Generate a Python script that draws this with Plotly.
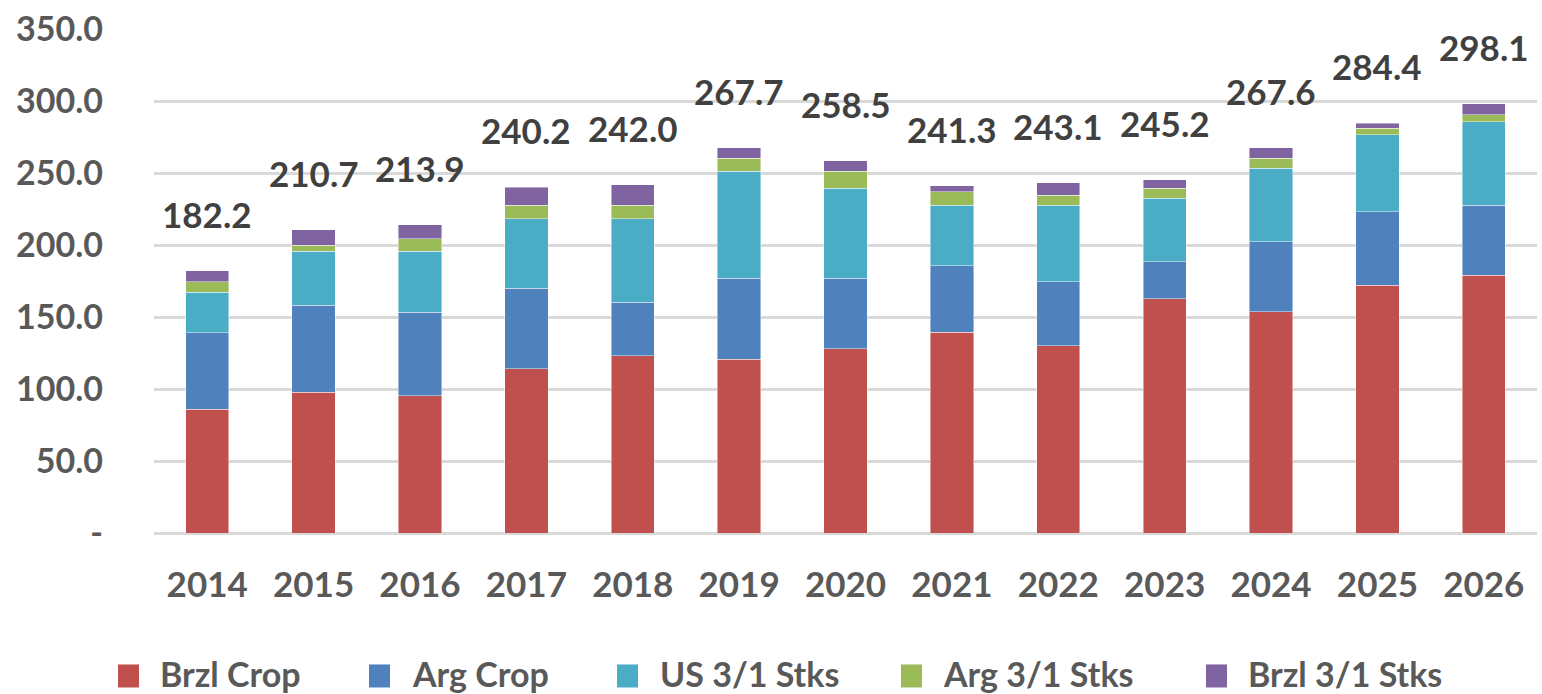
import plotly.graph_objects as go

years = ["2014", "2015", "2016", "2017", "2018", "2019", "2020",
         "2021", "2022", "2023", "2024", "2025", "2026"]
brzl_crop = [86.0, 97.7, 95.3, 113.9, 123.1, 120.8, 127.8, 139.4, 130.1, 162.8, 153.5, 172.1, 179.0]
arg_crop = [53.1, 60.5, 58.0, 56.1, 37.2, 56.2, 49.2, 46.3, 44.3, 25.5, 48.7, 51.0, 48.7]
us_stks = [28.1, 37.3, 42.2, 48.4, 58.1, 74.1, 62.3, 42.0, 53.3, 44.0, 51.0, 53.3, 58.0]
arg_stks = [7.2, 4.4, 9.0, 9.3, 9.3, 9.3, 11.8, 9.3, 7.0, 7.0, 7.0, 4.6, 4.6]
brzl_stks = [7.8, 10.8, 9.4, 12.5, 14.3, 7.3, 7.4, 4.3, 8.4, 5.9, 7.4, 3.4, 7.8]
totals = [182.2, 210.7, 213.9, 240.2, 242.0, 267.7, 258.5, 241.3, 243.1, 245.2, 267.6, 284.4, 298.1]

series_names = ["Brzl Crop", "Arg Crop", "US 3/1 Stks", "Arg 3/1 Stks", "Brzl 3/1 Stks"]
series_values = [brzl_crop, arg_crop, us_stks, arg_stks, brzl_stks]
colors = ["#C0504D", "#4F81BD", "#4BACC6", "#9BBB59", "#8064A2"]

y_tickvals = [0, 50, 100, 150, 200, 250, 300, 350]
y_ticktext = ["-", "50.0", "100.0", "150.0", "200.0", "250.0", "300.0", "350.0"]

FONT = "Lato"
W, H = 1542, 694
L, R = 154, 1537
TOP, BOT = 29.3, 532.7

xpos = list(range(len(years)))

fig = go.Figure()
for name, vals, col in zip(series_names, series_values, colors):
    fig.add_trace(go.Bar(
        x=xpos, y=vals, name=name, marker_color=col,
        marker_line=dict(width=0.8, color="rgba(255,255,255,0.55)"),
        width=0.407,
        showlegend=False,
    ))

annotations = []
for xi, tot in zip(xpos, totals):
    annotations.append(dict(
        x=xi, y=tot, xref="x", yref="y", text=f"{tot:.1f}",
        showarrow=False, yanchor="middle", xanchor="center", yshift=57,
        font=dict(family=FONT, size=35, color="#404040", weight="bold"),
    ))

def px2paper_x(px):
    return (px - L) / (R - L)

def px2paper_y(py):
    return (BOT - py) / (BOT - TOP)

shapes = []
marker_x = [118, 369, 617, 901, 1206]
text_x = [158, 410, 658, 941, 1246]
for name, col, mx, tx in zip(series_names, colors, marker_x, text_x):
    shapes.append(dict(
        type="rect", xref="paper", yref="paper",
        x0=px2paper_x(mx), x1=px2paper_x(mx + 21),
        y0=px2paper_y(687), y1=px2paper_y(664),
        fillcolor=col, line=dict(width=0),
    ))
    annotations.append(dict(
        x=px2paper_x(tx), y=px2paper_y(673), xref="paper", yref="paper",
        text=name, showarrow=False, xanchor="left", yanchor="middle",
        font=dict(family=FONT, size=34, color="#595959", weight="bold"),
    ))

fig.update_layout(
    barmode="stack",
    width=W, height=H,
    margin=dict(l=L, r=W - R, t=TOP, b=H - BOT, pad=0),
    plot_bgcolor="white", paper_bgcolor="white",
    font=dict(family=FONT, color="#595959"),
    showlegend=False,
    annotations=annotations,
    shapes=shapes,
    xaxis=dict(
        type="linear", range=[-0.5, len(years) - 0.5], autorange=False,
        tickvals=xpos, ticktext=years,
        showgrid=False, showline=False, zeroline=False,
        tickfont=dict(family=FONT, size=35, color="#595959", weight="bold"),
        ticklabelstandoff=28,
    ),
    yaxis=dict(
        range=[0, 350], autorange=False, tickvals=y_tickvals, ticktext=y_ticktext,
        showgrid=True, gridcolor="#D9D9D9", gridwidth=2.5,
        zeroline=True, zerolinecolor="#D9D9D9", zerolinewidth=2.5,
        showline=False,
        tickfont=dict(family=FONT, size=34, color="#595959", weight="bold"),
        ticklabelstandoff=50,
    ),
)

fig.write_html("out.html", config={"displayModeBar": False},
               post_script="document.body.style.margin='0';")
